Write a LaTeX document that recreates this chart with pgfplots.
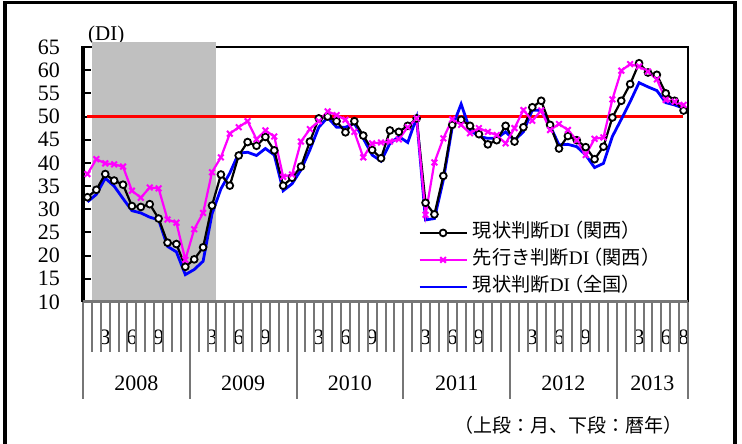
\documentclass[border=0pt]{standalone}
\usepackage{fontspec}
\setmainfont{Liberation Serif}
\newfontfamily\jp{Noto Sans CJK JP}
\usepackage{pgfplots}
\usepackage{pgfplotstable}
\pgfplotsset{compat=1.18}
\definecolor{recgray}{RGB}{192,192,192}
\definecolor{tickgray}{RGB}{118,118,118}
\definecolor{mag}{RGB}{255,0,255}
\definecolor{blu}{RGB}{0,0,255}
\definecolor{rd}{RGB}{255,0,0}
\pgfplotstableread{
x kansai senko zenkoku
0.5 32.6 37.6 31.6
1.5 34.2 40.8 33.2
2.5 37.6 39.9 36.7
3.5 36.2 39.7 35.0
4.5 35.3 39.2 32.3
5.5 30.7 34.0 29.7
6.5 30.5 32.5 29.2
7.5 31.1 34.7 28.3
8.5 28.0 34.5 27.7
9.5 22.8 27.8 22.0
10.5 22.5 27.1 20.8
11.5 17.6 19.1 15.9
12.5 19.2 25.7 17.0
13.5 21.8 29.2 18.8
14.5 30.8 38.0 29.0
15.5 37.5 41.2 34.4
16.5 35.1 46.3 37.8
17.5 41.6 47.7 42.1
18.5 44.5 49.0 42.3
19.5 43.7 45.1 41.6
20.5 45.6 47.0 43.1
21.5 42.7 45.7 41.7
22.5 35.1 37.0 34.0
23.5 36.8 37.5 35.5
24.5 39.2 44.6 38.5
25.5 44.6 47.3 42.8
26.5 49.6 49.0 47.7
27.5 50.0 51.1 49.8
28.5 49.0 50.3 47.7
29.5 46.6 49.3 47.7
30.5 49.0 46.7 48.5
31.5 45.9 41.2 45.3
32.5 42.8 44.2 41.7
33.5 41.0 44.4 40.4
34.5 47.0 44.6 44.2
35.5 46.7 45.1 45.7
36.5 48.0 47.7 44.4
37.5 49.6 49.6 49.8
38.5 31.4 28.8 27.7
39.5 28.9 40.1 28.0
40.5 37.2 45.3 36.3
41.5 48.2 49.4 47.7
42.5 49.3 48.2 52.7
43.5 48.0 46.4 47.1
44.5 46.2 47.5 45.7
45.5 44.0 46.7 45.3
46.5 44.9 46.0 45.3
47.5 48.0 44.2 46.7
48.5 44.6 47.5 44.9
49.5 47.7 51.4 46.7
50.5 52.0 49.1 51.4
51.5 53.4 51.3 51.3
52.5 48.2 47.1 48.0
53.5 43.1 48.4 43.9
54.5 45.8 47.1 44.0
55.5 44.9 44.9 43.5
56.5 43.4 41.7 41.7
57.5 40.8 45.2 39.0
58.5 43.5 45.5 39.9
59.5 49.8 53.7 45.7
60.5 53.4 59.9 49.4
61.5 57.0 61.3 53.2
62.5 61.5 60.8 57.3
63.5 59.5 59.7 56.4
64.5 59.0 58.0 55.6
65.5 55.0 53.6 53.0
66.5 53.4 53.2 52.5
67.5 51.3 52.5 51.8
}\datatable
\newcommand{\lp}{\kern-0.3em{\jp （}}
\begin{document}
\begin{tikzpicture}
\useasboundingbox (0,0) rectangle (742bp,444bp);
\draw[line width=3.5bp] (5bp,0) -- (5bp,441.5bp) -- (735bp,441.5bp) -- (735bp,0);
\node[anchor=west, inner sep=0pt, font=\fontsize{21bp}{21bp}\selectfont] at (88bp,409bp) {(DI)};
\node[anchor=east, inner sep=0pt, font=\jp\fontsize{19bp}{19bp}\selectfont] at (683bp,19bp) {（上段：月、下段：暦年）};
\begin{axis}[
  at={(83bp,142bp)}, anchor=south west,
  scale only axis, width=605bp, height=255bp,
  xmin=0, xmax=68, ymin=10, ymax=65,
  clip=false,
  axis lines=left,
  axis line style={draw=none, -},
  xtick=\empty,
  ytick={10,15,...,65},
  ytick align=inside,
  ytick pos=left,
  major tick length=8bp,
  ytick style={black, line width=2bp},
  /pgf/number format/assume math mode=true,
  yticklabel style={anchor=east, inner sep=0pt, xshift=-23bp, font=\fontsize{22bp}{22bp}\selectfont},
  legend image code/.code={\draw[mark repeat=2,mark phase=2,#1] plot coordinates {(0bp,0bp) (23.5bp,0bp) (47bp,0bp)};},
  legend cell align=left,
  legend style={at={(0.5537,0.305)}, anchor=north west, draw=none, fill=none, inner sep=0pt,
    row sep=10bp, column sep=5bp, font=\fontsize{19.2bp}{19.2bp}\selectfont,
    nodes={inner sep=0pt, text height=13bp, text depth=4bp}},
]
% frame
\draw[black, line width=2bp] (axis cs:0,65) -- (axis cs:68,65) -- (axis cs:68,10);
% recession shading
\fill[recgray] (axis cs:1,10) rectangle (axis cs:15,66.1);
\draw[black, line width=3bp] (axis cs:0,10) -- (axis cs:0,65.3);
% month and year labels
\pgfplotsinvokeforeach{2.5,14.5,26.5,38.5,50.5,62.5}{\node[font=\fontsize{22bp}{22bp}\selectfont] at ([yshift=-35bp]axis cs:#1,10) {3};}
\pgfplotsinvokeforeach{5.5,17.5,29.5,41.5,53.5,65.5}{\node[font=\fontsize{22bp}{22bp}\selectfont] at ([yshift=-35bp]axis cs:#1,10) {6};}
\pgfplotsinvokeforeach{8.5,20.5,32.5,44.5,56.5}{\node[font=\fontsize{22bp}{22bp}\selectfont] at ([yshift=-35bp]axis cs:#1,10) {9};}
\node[font=\fontsize{22bp}{22bp}\selectfont] at ([yshift=-35bp]axis cs:67.5,10) {8};
\node[font=\fontsize{22bp}{22bp}\selectfont] at ([yshift=-81bp]axis cs:6,10) {2008};
\node[font=\fontsize{22bp}{22bp}\selectfont] at ([yshift=-81bp]axis cs:18,10) {2009};
\node[font=\fontsize{22bp}{22bp}\selectfont] at ([yshift=-81bp]axis cs:30,10) {2010};
\node[font=\fontsize{22bp}{22bp}\selectfont] at ([yshift=-81bp]axis cs:42,10) {2011};
\node[font=\fontsize{22bp}{22bp}\selectfont] at ([yshift=-81bp]axis cs:54,10) {2012};
\node[font=\fontsize{22bp}{22bp}\selectfont] at ([yshift=-81bp]axis cs:64,10) {2013};
% tick lines
\pgfplotsinvokeforeach{0,...,68}{\draw[tickgray, line width=2bp] (axis cs:#1,10) -- ([yshift=-50bp]axis cs:#1,10);}
\pgfplotsinvokeforeach{0,12,24,36,48,60,68}{\draw[tickgray, line width=2bp] (axis cs:#1,10) -- ([yshift=-97bp]axis cs:#1,10);}
\draw[tickgray, line width=3bp] (axis cs:0,10) -- (axis cs:68,10);
% legend entries
\addlegendimage{black, line width=2.2bp, mark=*, mark size=3.4bp, mark options={fill=white, draw=black, line width=1.8bp}}
\addlegendentry{{\jp 現状判断}DI\lp{\jp 関西）}}
\addlegendimage{mag, line width=2.2bp, mark=x, mark size=4bp, mark options={line width=2bp}}
\addlegendentry{{\jp 先行き判断}DI\lp{\jp 関西）}}
\addlegendimage{blu, line width=2.8bp}
\addlegendentry{{\jp 現状判断}DI\lp{\jp 全国）}}
% data
\addplot[rd, line width=2.6bp, forget plot] coordinates {(0.4,50) (67.4,50)};
\addplot[blu, line width=2.8bp, forget plot] table[x=x, y=zenkoku] {\datatable};
\addplot[black, line width=2.2bp, mark=*, mark size=3.4bp, mark options={fill=white, draw=black, line width=1.8bp}, forget plot] table[x=x, y=kansai] {\datatable};
\addplot[mag, line width=2.2bp, mark=x, mark size=4bp, mark options={line width=2bp}, forget plot] table[x=x, y=senko] {\datatable};
\end{axis}
\end{tikzpicture}
\end{document}
